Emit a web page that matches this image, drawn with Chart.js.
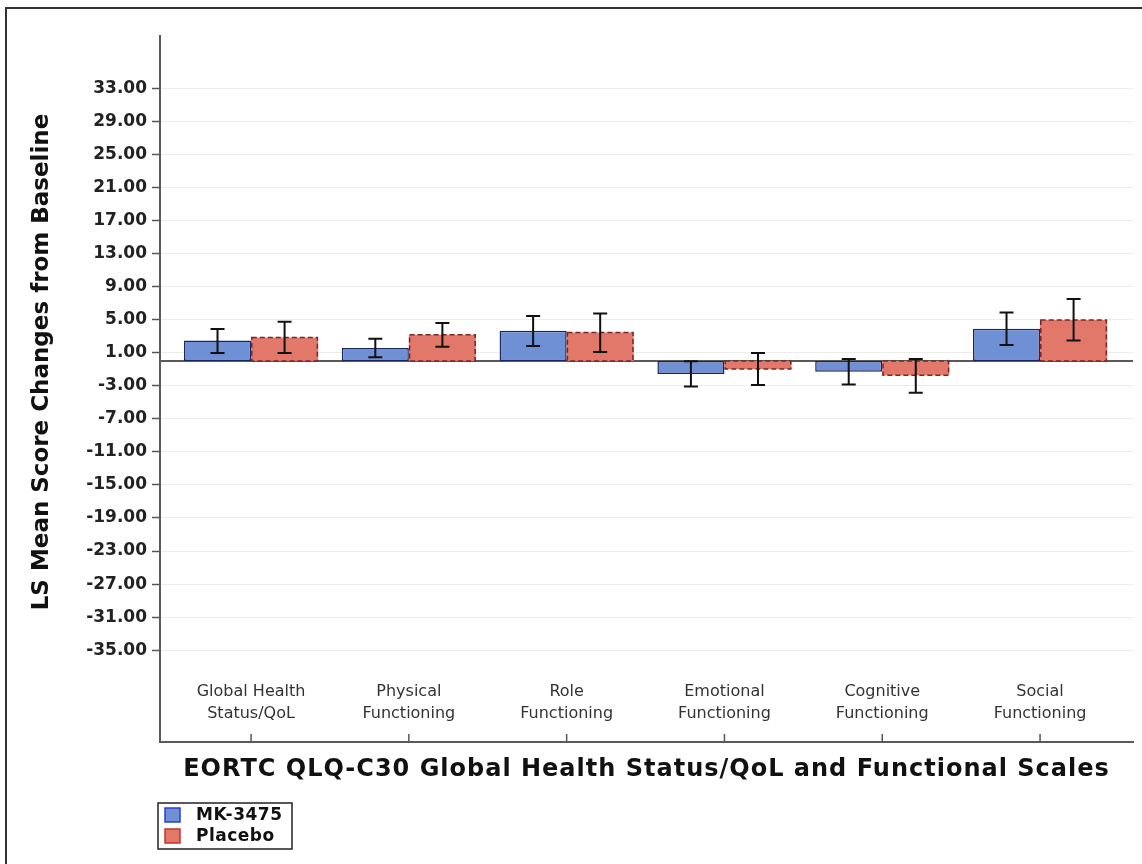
<!DOCTYPE html>
<html>
<head>
<meta charset="utf-8">
<script src="https://cdn.jsdelivr.net/npm/chart.js@4/dist/chart.umd.min.js"></script>
<style>
  html, body { margin: 0; padding: 0; background: #ffffff; }
  #wrap { width: 1142px; height: 864px; }
</style>
</head>
<body>
<div id="wrap"><canvas id="c" width="1142" height="864"></canvas></div>
<script>
// ---- data ----
const categories = [
  ["Global Health", "Status/QoL"],
  ["Physical", "Functioning"],
  ["Role", "Functioning"],
  ["Emotional", "Functioning"],
  ["Cognitive", "Functioning"],
  ["Social", "Functioning"]
];
const seriesNames = ["MK-3475", "Placebo"];
const mk3475 = [2.49, 1.58, 3.65, -1.57, -1.30, 3.90];
const mk3475Low = [0.97, 0.44, 1.81, -3.10, -2.86, 1.93];
const mk3475High = [3.86, 2.69, 5.43, -0.04, 0.24, 5.87];
const placebo = [2.85, 3.19, 3.45, -0.97, -1.72, 4.95];
const placeboLow = [0.97, 1.73, 1.09, -2.90, -3.83, 2.49];
const placeboHigh = [4.75, 4.59, 5.75, 0.97, 0.24, 7.49];
const yTicks = [33, 29, 25, 21, 17, 13, 9, 5, 1, -3, -7, -11, -15, -19, -23, -27, -31, -35];
const yTitle = "LS Mean Score Changes from Baseline";
const xTitle = "EORTC QLQ-C30 Global Health Status/QoL and Functional Scales";

const errLow = [mk3475Low, placeboLow];
const errHigh = [mk3475High, placeboHigh];

const FONT = "'DejaVu Sans', sans-serif";

const customPlugin = {
  id: 'custom',
  beforeDatasetsDraw(chart) {
    const ctx = chart.ctx, y = chart.scales.y, a = chart.chartArea;
    const y0 = y.getPixelForValue(0);
    ctx.save();
    ctx.strokeStyle = '#5a5a5a';
    ctx.lineWidth = 2;
    ctx.beginPath();
    ctx.moveTo(a.left, y0);
    ctx.lineTo(a.right, y0);
    ctx.stroke();
    ctx.restore();
  },
  afterDatasetsDraw(chart) {
    const ctx = chart.ctx, ys = chart.scales.y;
    ctx.save();
    // dashed outline for placebo bars
    const m1 = chart.getDatasetMeta(1);
    ctx.strokeStyle = '#7a2626';
    ctx.lineWidth = 1.5;
    ctx.setLineDash([5, 3]);
    m1.data.forEach(el => {
      const p = el.getProps(['x', 'y', 'base', 'width'], true);
      const l = p.x - p.width / 2, top = Math.min(p.y, p.base), h = Math.abs(p.base - p.y);
      ctx.strokeRect(l + 0.75, top, p.width - 1.5, h);
    });
    ctx.setLineDash([]);
    // error bars
    ctx.strokeStyle = '#111';
    ctx.lineWidth = 2;
    [0, 1].forEach(d => {
      const meta = chart.getDatasetMeta(d);
      meta.data.forEach((el, i) => {
        const x = el.x;
        const yl = ys.getPixelForValue(errLow[d][i]);
        const yh = ys.getPixelForValue(errHigh[d][i]);
        ctx.beginPath();
        ctx.moveTo(x, yl); ctx.lineTo(x, yh);
        ctx.moveTo(x - 7, yl); ctx.lineTo(x + 7, yl);
        ctx.moveTo(x - 7, yh); ctx.lineTo(x + 7, yh);
        ctx.stroke();
      });
    });
    ctx.restore();
  },
  afterDraw(chart) {
    const ctx = chart.ctx, xs = chart.scales.x, a = chart.chartArea;
    ctx.save();
    // outer frame
    ctx.strokeStyle = '#333';
    ctx.lineWidth = 2;
    ctx.strokeRect(6, 8, 1160, 900);
    // x tick marks (inward) and category labels
    ctx.strokeStyle = '#555';
    ctx.lineWidth = 1.5;
    ctx.fillStyle = '#333';
    ctx.font = "16px " + FONT;
    ctx.textAlign = 'center';
    ctx.textBaseline = 'middle';
    categories.forEach((lines, i) => {
      const x = xs.getPixelForValue(i + 1);
      ctx.beginPath();
      ctx.moveTo(x, a.bottom);
      ctx.lineTo(x, a.bottom - 8);
      ctx.stroke();
      lines.forEach((t, k) => ctx.fillText(t, x, 692 + k * 22));
    });
    // x title
    ctx.fillStyle = '#111';
    ctx.font = "bold 24px " + FONT;
    ctx.letterSpacing = '1px';
    ctx.fillText(xTitle, (a.left + a.right) / 2, 770);
    ctx.letterSpacing = '0px';
    // y title
    ctx.save();
    ctx.translate(42, 362);
    ctx.rotate(-Math.PI / 2);
    ctx.font = "bold 23px " + FONT;
    ctx.fillText(yTitle, 0, 0);
    ctx.restore();
    // legend
    ctx.strokeStyle = '#222';
    ctx.lineWidth = 1.5;
    ctx.strokeRect(158, 803, 134, 46);
    const ds = chart.data.datasets;
    ds.forEach((d, i) => {
      const yy = 815 + i * 21;
      ctx.fillStyle = d.backgroundColor;
      ctx.fillRect(165, yy - 7, 15, 14);
      ctx.strokeStyle = i === 0 ? '#2a3fd0' : '#c83232';
      ctx.lineWidth = 1.5;
      ctx.strokeRect(165, yy - 7, 15, 14);
      ctx.fillStyle = '#111';
      ctx.font = "bold 17px " + FONT;
      ctx.letterSpacing = '0.5px';
      ctx.textAlign = 'left';
      ctx.fillText(d.label, 196, yy + 1);
      ctx.letterSpacing = '0px';
    });
    ctx.restore();
  }
};

new Chart(document.getElementById('c'), {
  type: 'bar',
  data: {
    datasets: [
      {
        label: seriesNames[0],
        data: categories.map((c, i) => ({ x: i + 1, y: mk3475[i] })),
        backgroundColor: '#7090d6',
        borderColor: '#1c2660',
        borderWidth: 1.5,
        borderSkipped: false
      },
      {
        label: seriesNames[1],
        data: categories.map((c, i) => ({ x: i + 1, y: placebo[i] })),
        backgroundColor: '#e2786a',
        borderWidth: 0
      }
    ]
  },
  options: {
    responsive: false,
    animation: false,
    devicePixelRatio: 1,
    categoryPercentage: 0.85,
    barPercentage: 1.0,
    layout: { padding: { top: 36, right: 9, left: 0, bottom: 0 } },
    plugins: { legend: { display: false }, tooltip: { enabled: false } },
    scales: {
      x: {
        type: 'linear',
        offset: false,
        min: 0.423,
        max: 6.589,
        afterBuildTicks(s) { s.ticks = categories.map((c, i) => ({ value: i + 1 })); },
        grid: { display: false },
        border: { display: true, color: '#5a5a5a', width: 2 },
        ticks: { display: false },
        afterFit(s) { s.height = 122; }
      },
      y: {
        min: -46.11,
        max: 39.33,
        afterBuildTicks(s) { s.ticks = yTicks.map(v => ({ value: v })); },
        ticks: {
          callback: v => Number(v).toFixed(2),
          color: '#222',
          font: { family: FONT, size: 17, weight: 'bold' },
          padding: 5
        },
        grid: { color: '#ececec', lineWidth: 1, tickLength: 8, tickColor: '#555', tickWidth: 1.5 },
        border: { display: true, color: '#5a5a5a', width: 2 },
        afterFit(s) { s.width = 160; }
      }
    }
  },
  plugins: [customPlugin]
});
</script>
</body>
</html>
